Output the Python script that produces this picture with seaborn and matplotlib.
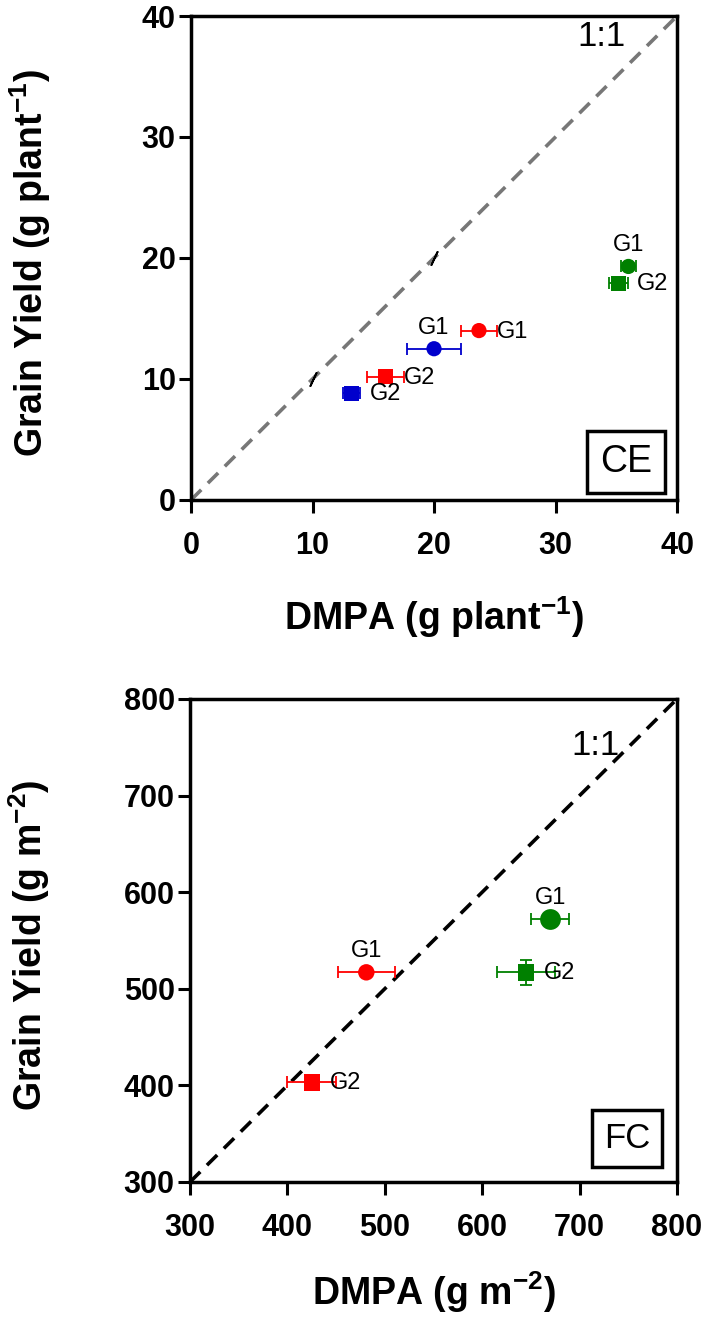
import matplotlib
matplotlib.use("Agg")
import matplotlib.pyplot as plt
import seaborn as sns
import pandas as pd

# ---- CE panel (g plant-1) ----
ce_genotype = ["G1", "G2", "G1", "G2", "G1", "G2"]
ce_group = ["red", "red", "blue", "blue", "green", "green"]
ce_dmpa = [23.7, 16.0, 20.0, 13.2, 36.0, 35.2]
ce_dmpa_err = [1.5, 1.5, 2.2, 0.7, 0.6, 0.8]
ce_yield = [14.0, 10.2, 12.5, 8.8, 19.3, 17.9]
ce_yield_err = [0.0, 0.0, 0.0, 0.3, 0.3, 0.0]
ce_marks_x = [10, 20]
ce_marks_y = [10, 20]
ce_ticks = [0, 10, 20, 30, 40]

# ---- FC panel (g m-2) ----
fc_genotype = ["G1", "G2", "G1", "G2"]
fc_group = ["red", "red", "green", "green"]
fc_dmpa = [481, 425, 670, 645]
fc_dmpa_err = [29.5, 25, 19.5, 30]
fc_yield = [517, 403, 572, 517]
fc_yield_err = [0, 0, 0, 13]
fc_ticks = [300, 400, 500, 600, 700, 800]

# label placement for each point (style only)
ce_label_side = ["right", "right", "above", "right", "above", "right"]
fc_label_side = ["above", "right", "above", "right"]

palette = {"red": "#FF0000", "blue": "#0000CC", "green": "#008000"}
markers = {"G1": "o", "G2": "s"}

sns.set_theme(style="ticks")
plt.rcParams["font.family"] = ["Liberation Sans", "DejaVu Sans"]
plt.rcParams["mathtext.fontset"] = "custom"
plt.rcParams["mathtext.rm"] = "Liberation Sans"
plt.rcParams["mathtext.bf"] = "Liberation Sans:bold"
for key in ["text.color", "axes.labelcolor", "xtick.color", "ytick.color",
            "xtick.labelcolor", "ytick.labelcolor"]:
    plt.rcParams[key] = "black"


def make_df(dmpa, dmpa_err, yld, yld_err, group, geno):
    return pd.DataFrame({"DMPA": dmpa, "DMPA_err": dmpa_err, "Yield": yld,
                         "Yield_err": yld_err, "Group": group, "Genotype": geno})


def style_axes(ax, ticks, xlabel, ylabel, xlab_y):
    ax.set_xlim(ticks[0], ticks[-1])
    ax.set_ylim(ticks[0], ticks[-1])
    ax.set_xticks(ticks)
    ax.set_yticks(ticks)
    for side in ["left", "right", "top", "bottom"]:
        ax.spines[side].set_visible(True)
        ax.spines[side].set_linewidth(2.5)
        ax.spines[side].set_color("black")
    ax.tick_params(axis="both", direction="out", length=9, width=2.2,
                   color="black", labelcolor="black", labelsize=22)
    ax.tick_params(axis="x", pad=13)
    ax.tick_params(axis="y", pad=2)
    for lab in ax.get_xticklabels() + ax.get_yticklabels():
        lab.set_fontweight("bold")
    ax.set_xlabel(xlabel, fontsize=27, fontweight="bold", color="black")
    ax.set_ylabel(ylabel, fontsize=27, fontweight="bold", color="black")
    ax.xaxis.set_label_coords(0.5, xlab_y)
    ax.yaxis.set_label_coords(-0.284, 0.49)
    ax.grid(False)


def draw_points(ax, df, sides, ms, big=None):
    for grp, sub in df.groupby("Group", sort=False):
        ax.errorbar(sub["DMPA"], sub["Yield"], xerr=sub["DMPA_err"],
                    yerr=sub["Yield_err"], fmt="none", ecolor=palette[grp],
                    elinewidth=1.3, capsize=4, capthick=1.3, zorder=3)
    sns.scatterplot(data=df, x="DMPA", y="Yield", hue="Group", style="Genotype",
                    palette=palette, markers=markers, s=ms, linewidth=0,
                    legend=False, ax=ax, zorder=4)
    if big is not None:
        sns.scatterplot(data=big, x="DMPA", y="Yield", hue="Group", style="Genotype",
                        palette=palette, markers=markers, s=ms * 1.6, linewidth=0,
                        legend=False, ax=ax, zorder=5)
    for (_, row), side in zip(df.iterrows(), sides):
        if side == "right":
            off, ha, va = (18, -1), "left", "center"
        else:
            off, ha, va = (0, 10), "center", "bottom"
        ax.annotate(row["Genotype"], (row["DMPA"], row["Yield"]), xytext=off,
                    textcoords="offset pixels", ha=ha, va=va, fontsize=17,
                    color="black", zorder=6)


fig = plt.figure(figsize=(7.09, 13.23), dpi=100)
ax1 = fig.add_axes([0.2694, 0.6221, 0.6855, 0.3658])
ax2 = fig.add_axes([0.2680, 0.1066, 0.6869, 0.3651])

# ---- top: CE ----
ce_df = make_df(ce_dmpa, ce_dmpa_err, ce_yield, ce_yield_err, ce_group, ce_genotype)
sns.lineplot(x=[ce_ticks[0], ce_ticks[-1]], y=[ce_ticks[0], ce_ticks[-1]], ax=ax1,
             color="#777777", linewidth=2.6, dashes=False, zorder=2)
ax1.lines[-1].set_dashes((4, 2.6))
ax1.scatter(ce_marks_x, ce_marks_y, marker=(2, 2, -25), s=110, color="black",
            linewidths=1.3, zorder=3)
draw_points(ax1, ce_df, ce_label_side, 120)
ax1.text(33.8, 38.3, "1:1", fontsize=25, ha="center", va="center")
ax1.text(0.949, 0.041, "CE", transform=ax1.transAxes, fontsize=27, ha="right",
         va="bottom", bbox=dict(boxstyle="square,pad=0.35", fc="white", ec="black", lw=2.5))
style_axes(ax1, ce_ticks, r"DMPA (g plant$^{\mathbf{-1}}$)",
           r"Grain Yield (g plant$^{\mathbf{-1}}$)", -0.196)

# ---- bottom: FC ----
fc_df = make_df(fc_dmpa, fc_dmpa_err, fc_yield, fc_yield_err, fc_group, fc_genotype)
sns.lineplot(x=[fc_ticks[0], fc_ticks[-1]], y=[fc_ticks[0], fc_ticks[-1]], ax=ax2,
             color="black", linewidth=2.6, dashes=False, zorder=2)
ax2.lines[-1].set_dashes((4, 2.6))
big = fc_df[(fc_df["Group"] == "green") & (fc_df["Genotype"] == "G1")]
draw_points(ax2, fc_df, fc_label_side, 140, big=big)
ax2.text(716, 752, "1:1", fontsize=25, ha="center", va="center")
ax2.text(0.945, 0.056, "FC", transform=ax2.transAxes, fontsize=25, ha="right",
         va="bottom", bbox=dict(boxstyle="square,pad=0.35", fc="white", ec="black", lw=2.5))
style_axes(ax2, fc_ticks, r"DMPA (g m$^{\mathbf{-2}}$)",
           r"Grain Yield (g m$^{\mathbf{-2}}$)", -0.18)

fig.savefig("out.png", dpi=100)
